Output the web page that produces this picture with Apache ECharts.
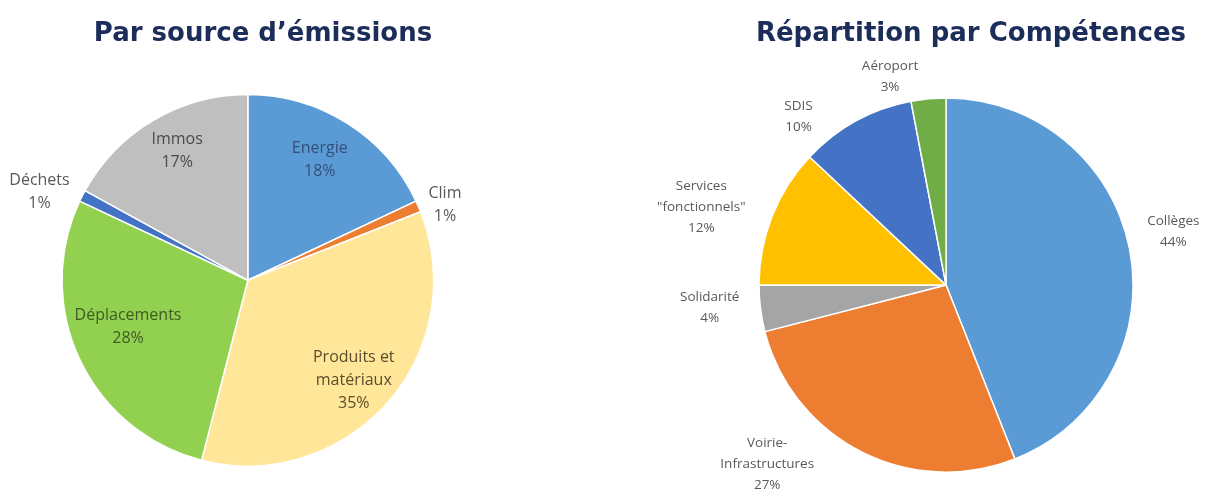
<!DOCTYPE html>
<html>
<head>
<meta charset="utf-8">
<script src="https://cdn.jsdelivr.net/npm/echarts@6/dist/echarts.min.js"></script>
<style>
html,body{margin:0;padding:0;background:#fff;}
#main{width:1209px;height:489px;}
</style>
</head>
<body>
<div id="main"></div>
<script>
// ---- Data ----
const titleLeft = 'Par source d\u2019émissions';
const titleRight = 'Répartition par Compétences';

const sourceNames = ['Energie', 'Clim', 'Produits et\nmatériaux', 'Déplacements', 'Déchets', 'Immos'];
const sourceValues = [18, 1, 35, 28, 1, 17];

const compNames = ['Collèges', 'Voirie-\nInfrastructures', 'Solidarité', 'Services\n"fonctionnels"', 'SDIS', 'Aéroport'];
const compValues = [44, 27, 4, 12, 10, 3];

// ---- Styles ----
const sourceColors = ['#5b9bd5', '#ed7d31', '#ffe699', '#92d050', '#4472c4', '#bfbfbf'];
const sourceLabelColors = ['#34507a', '#595959', '#5a4d2a', '#3f5a22', '#595959', '#4a4a4a'];
const compColors = ['#5b9bd5', '#ed7d31', '#a5a5a5', '#ffc000', '#4472c4', '#70ad47'];

// label placement: radial distance (fraction of radius) and angular offset (deg)
const sourceLabelRatio = [0.73, 1.1, 0.76, 0.67, 1.18, 0.77];
const sourceLabelTurn = [-1.5, 2.5, 2, 4, -4, 2];
const compLabelRatio = [1.21, 1.31, 1.23, 1.33, 1.16, 1.12];
const compLabelTurn = [-2.5, 18, 1.7, -4, -12.4, -9.6];

const pies = [
  {center: ['20.5%', '57.3%'], radius: '76%'},
  {center: ['78.25%', '58.3%'], radius: '76.5%'}
];

const chart = echarts.init(document.getElementById('main'));

function makeLayout(seriesIdx, ratios, turns) {
  return function (params) {
    const W = chart.getWidth(), H = chart.getHeight();
    const cx = parseFloat(pies[seriesIdx].center[0]) / 100 * W;
    const cy = parseFloat(pies[seriesIdx].center[1]) / 100 * H;
    const r = params.labelRect;
    const lx = r.x + r.width / 2, ly = r.y + r.height / 2;
    let vx = lx - cx, vy = ly - cy;
    const k = ratios[params.dataIndex] / 0.5;
    const a = turns[params.dataIndex] * Math.PI / 180;
    const rx = vx * Math.cos(a) - vy * Math.sin(a);
    const ry = vx * Math.sin(a) + vy * Math.cos(a);
    return {x: cx + rx * k, y: cy + ry * k, align: 'center', verticalAlign: 'middle'};
  };
}

const option = {
  backgroundColor: '#ffffff',
  title: [
    {text: titleLeft, left: 258, top: 16, textAlign: 'center',
     textStyle: {fontFamily: 'DejaVu Sans', fontWeight: 'bold', fontSize: 26, color: '#1c2d5a'}},
    {text: titleRight, left: 966, top: 16, textAlign: 'center',
     textStyle: {fontFamily: 'DejaVu Sans', fontWeight: 'bold', fontSize: 26, color: '#1c2d5a'}}
  ],
  series: [
    {
      type: 'pie',
      center: pies[0].center,
      radius: pies[0].radius,
      startAngle: 90,
      clockwise: true,
      avoidLabelOverlap: false,
      itemStyle: {borderColor: '#ffffff', borderWidth: 1.5},
      label: {
        position: 'inside',
        formatter: '{b}\n{c}%',
        fontFamily: 'Open Sans',
        fontSize: 16,
        lineHeight: 23,
        align: 'center'
      },
      labelLine: {show: false},
      labelLayout: makeLayout(0, sourceLabelRatio, sourceLabelTurn),
      emphasis: {disabled: true},
      data: sourceNames.map((n, i) => ({
        name: n, value: sourceValues[i],
        itemStyle: {color: sourceColors[i]},
        label: {color: sourceLabelColors[i]}
      }))
    },
    {
      type: 'pie',
      center: pies[1].center,
      radius: pies[1].radius,
      startAngle: 90,
      clockwise: true,
      avoidLabelOverlap: false,
      itemStyle: {borderColor: '#ffffff', borderWidth: 1.5},
      label: {
        position: 'inside',
        formatter: '{b}\n{c}%',
        fontFamily: 'Open Sans',
        fontSize: 13.5,
        lineHeight: 21,
        color: '#595959',
        align: 'center'
      },
      labelLine: {show: false},
      labelLayout: makeLayout(1, compLabelRatio, compLabelTurn),
      emphasis: {disabled: true},
      data: compNames.map((n, i) => ({
        name: n, value: compValues[i],
        itemStyle: {color: compColors[i]}
      }))
    }
  ]
};
chart.setOption(option);
</script>
</body>
</html>
